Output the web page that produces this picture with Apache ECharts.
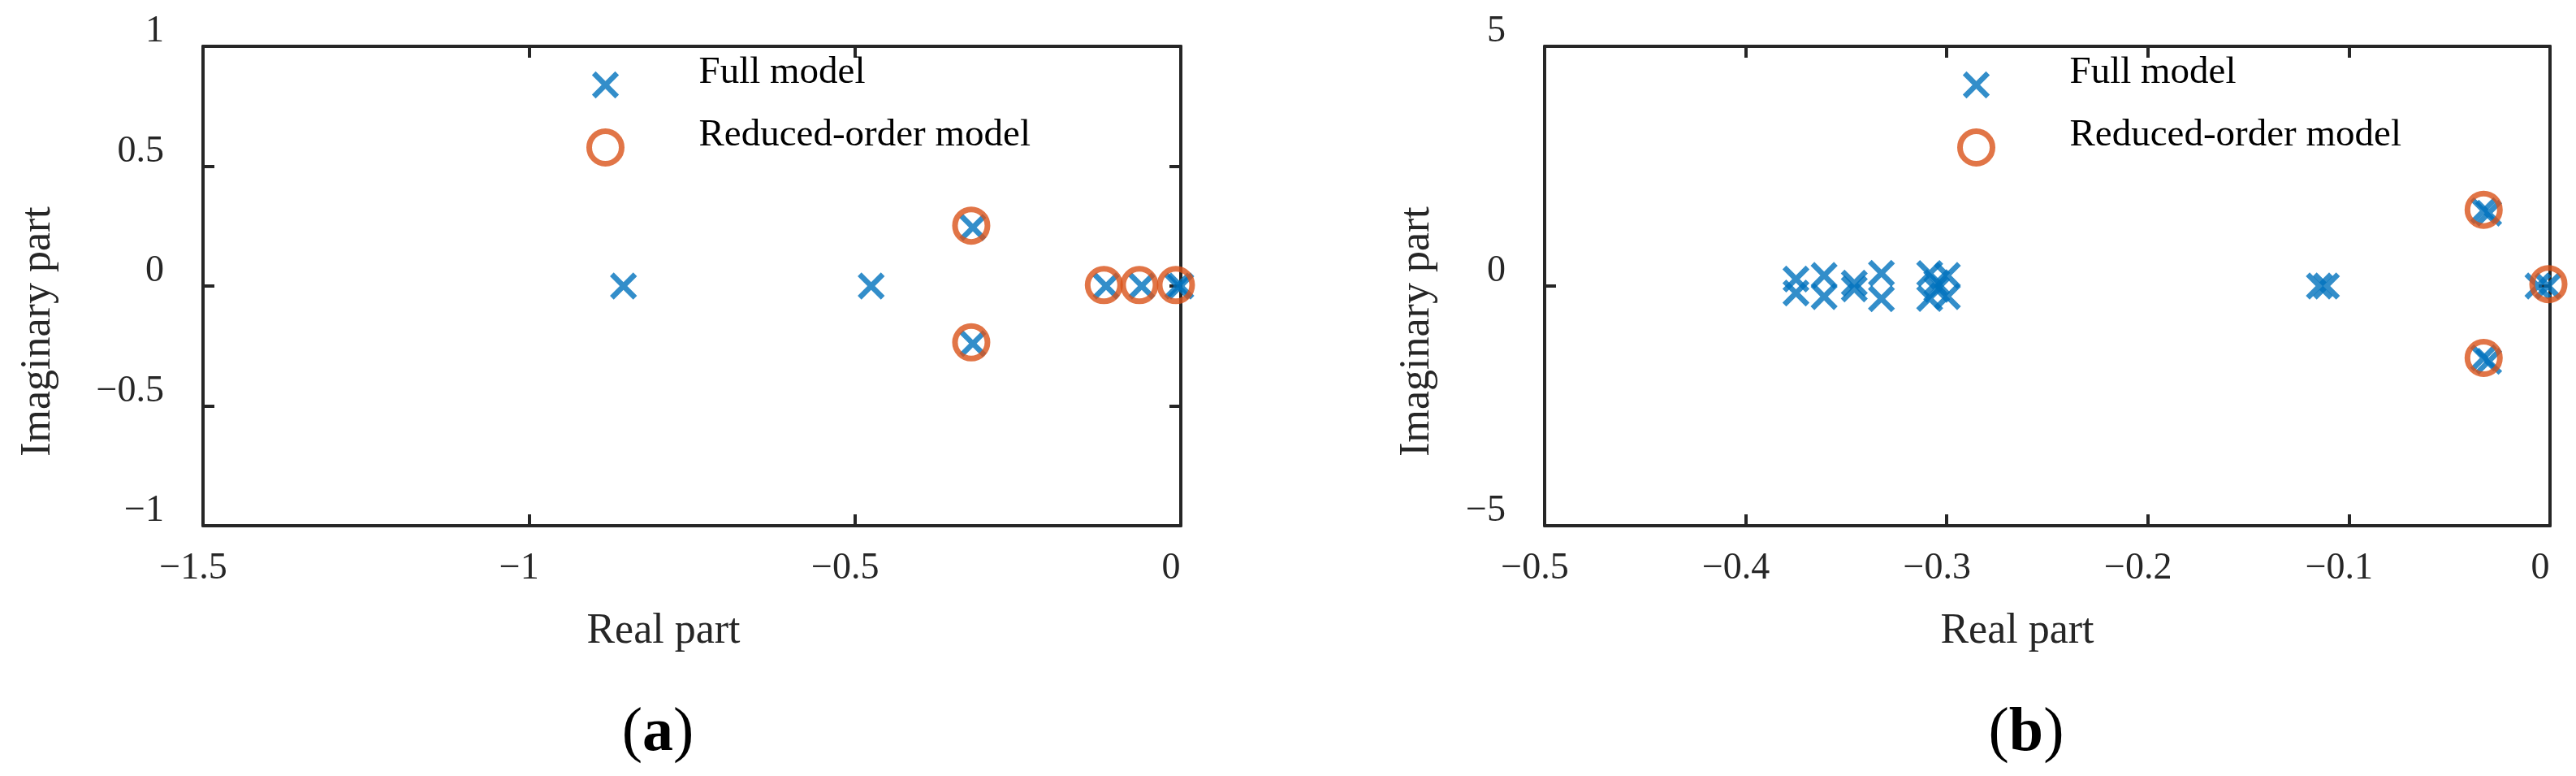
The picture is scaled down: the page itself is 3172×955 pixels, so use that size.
<!DOCTYPE html>
<html><head><meta charset="utf-8">
<script src="https://cdn.jsdelivr.net/npm/echarts@6/dist/echarts.min.js"></script>
<style>html,body{margin:0;padding:0;background:#fff}#c{width:3172px;height:955px}</style>
</head><body><div id="c"></div>
<script>
// ---- data ----
// (a) eigenvalues
const fullA_re = [-0.855, -0.475, -0.319, -0.319, -0.1147, -0.060, -0.005, 0.0];
const fullA_im = [0, 0, 0.244, -0.240, 0, 0, 0, 0];
const redA_re  = [-0.3215, -0.3215, -0.118, -0.0636, -0.0075];
const redA_im  = [0.252, -0.235, 0.004, 0.004, 0.004];
// (b) eigenvalues
const fullB_re = [-0.375, -0.375, -0.361, -0.361, -0.346, -0.346, -0.3325, -0.3325,
                  -0.3085, -0.3085, -0.2997, -0.2997, -0.305, -0.305,
                  -0.1147, -0.1112, -0.033, -0.0305, -0.033, -0.0305, -0.006, -0.001];
const fullB_im = [0.145, -0.145, 0.22, -0.22, 0.06, -0.06, 0.265, -0.265,
                  0.26, -0.26, 0.22, -0.22, 0.07, -0.07,
                  0, 0, 1.57, 1.52, -1.50, -1.57, 0, 0];
const redB_re  = [-0.033, -0.033, -0.0008];
const redB_im  = [1.59, -1.50, 0.04];
// axis ranges [min, max, interval]
const xRangeA = [-1.5, 0, 0.5];
const yRangeA = [-1, 1, 0.5];
const xRangeB = [-0.5, 0, 0.1];
const yRangeB = [-5, 5, 5];
const seriesNames = ['Full model', 'Reduced-order model'];
const panelLabels = ['a', 'b'];
const xTitle = 'Real part';
const yTitle = 'Imaginary part';

// ---- styling ----
const FONT = 'Liberation Serif';
const BLUE = '#0072BD';
const ORANGE = '#D95319';
const AX = '#262626';
const XPATH = 'path://M0,0M10,24L24,10L60,46L96,10L110,24L74,60L110,96L96,110L60,74L24,110L10,96L46,60ZM120,120';

function zip(a, b) { return a.map((v, i) => [v, b[i]]); }
function fmt(v) {
  const r = Math.round(v * 10) / 10;
  return r < 0 ? '\u2212' + String(-r) : String(r);
}
const lineStyle = { color: AX, width: 4 };

function xAxes(range, grid, nameShift) {
  return [
    { type: 'value', gridIndex: grid, position: 'bottom', min: range[0], max: range[1], interval: range[2],
      axisLine: { show: true, onZero: false, lineStyle }, axisTick: { show: true, inside: true, length: 14, lineStyle },
      splitLine: { show: false },
      axisLabel: { formatter: fmt, fontFamily: FONT, fontSize: 46, color: AX, margin: 30, padding: [0, 24, 0, 0] },
      name: xTitle, nameLocation: 'middle', nameGap: 104,
      nameTextStyle: { fontFamily: FONT, fontSize: 52, color: AX, padding: [0, nameShift, 0, 0] } },
    { type: 'value', gridIndex: grid, position: 'top', min: range[0], max: range[1], interval: range[2],
      axisLine: { show: true, onZero: false, lineStyle }, axisTick: { show: true, inside: true, length: 14, lineStyle },
      splitLine: { show: false }, axisLabel: { show: false } }
  ];
}
function yAxes(range, grid, gap) {
  return [
    { type: 'value', gridIndex: grid, position: 'left', min: range[0], max: range[1], interval: range[2],
      axisLine: { show: true, onZero: false, lineStyle }, axisTick: { show: true, inside: true, length: 14, lineStyle },
      splitLine: { show: false },
      axisLabel: { formatter: fmt, fontFamily: FONT, fontSize: 46, color: AX, margin: 48,
                   verticalAlign: 'bottom', lineHeight: 36 },
      name: yTitle, nameLocation: 'middle', nameGap: gap,
      nameTextStyle: { fontFamily: FONT, fontSize: 52, color: AX, padding: [0, 112, 0, 0] } },
    { type: 'value', gridIndex: grid, position: 'right', min: range[0], max: range[1], interval: range[2],
      axisLine: { show: true, onZero: false, lineStyle }, axisTick: { show: true, inside: true, length: 14, lineStyle },
      splitLine: { show: false }, axisLabel: { show: false } }
  ];
}
function crossSeries(re, im, xi, yi) {
  return { type: 'scatter', name: seriesNames[0], xAxisIndex: xi, yAxisIndex: yi, data: zip(re, im),
    symbol: XPATH, symbolSize: 40, itemStyle: { color: BLUE, borderWidth: 0 }, clip: false, z: 2,
    emphasis: { disabled: true } };
}
function circleSeries(re, im, xi, yi) {
  return { type: 'scatter', name: seriesNames[1], xAxisIndex: xi, yAxisIndex: yi, data: zip(re, im),
    symbol: 'circle', symbolSize: 40,
    itemStyle: { color: 'rgba(0,0,0,0)', borderColor: ORANGE, borderWidth: 7 }, clip: false, z: 3,
    emphasis: { disabled: true } };
}
function legend(left) {
  return { left: left, top: 66, orient: 'vertical', itemWidth: 40, itemHeight: 40, itemGap: 0, padding: 0,
    selectedMode: false,
    formatter: '{t|{name}}',
    textStyle: { fontFamily: FONT, fontSize: 47, color: '#000', padding: [0, 0, 0, 90],
      rich: { t: { fontFamily: FONT, fontSize: 47, color: '#000', lineHeight: 47, padding: [0, 0, 30, 0] } } },
    data: [
      { name: seriesNames[0], icon: XPATH, itemStyle: { color: BLUE, borderWidth: 0 } },
      { name: seriesNames[1], icon: 'circle', itemStyle: { color: 'rgba(0,0,0,0)', borderColor: ORANGE, borderWidth: 7 } }
    ] };
}
function panelTitle(letter, x) {
  return { text: '{p|(}{b|' + letter + '}{p|)}', left: x, top: 860, textAlign: 'center',
    textStyle: { rich: {
      p: { fontFamily: FONT, fontSize: 76, color: '#000', fontWeight: 'normal' },
      b: { fontFamily: FONT, fontSize: 76, color: '#000', fontWeight: 'bold' } } } };
}

const chart = echarts.init(document.getElementById('c'), null, { renderer: 'canvas' });
chart.setOption({
  animation: false,
  backgroundColor: '#fff',
  title: [panelTitle(panelLabels[0], 805), panelTitle(panelLabels[1], 2490)],
  legend: [legend(722), legend(2410)],
  grid: [
    { left: 250, top: 57, width: 1204, height: 590 },
    { left: 1902, top: 57, width: 1238, height: 590 }
  ],
  xAxis: [...xAxes(xRangeA, 0, 70), ...xAxes(xRangeB, 1, 74)],
  yAxis: [...yAxes(yRangeA, 0, 177), ...yAxes(yRangeB, 1, 131)],
  series: [
    crossSeries(fullA_re, fullA_im, 0, 0),
    circleSeries(redA_re, redA_im, 0, 0),
    crossSeries(fullB_re, fullB_im, 2, 2),
    circleSeries(redB_re, redB_im, 2, 2)
  ]
});
</script></body></html>
